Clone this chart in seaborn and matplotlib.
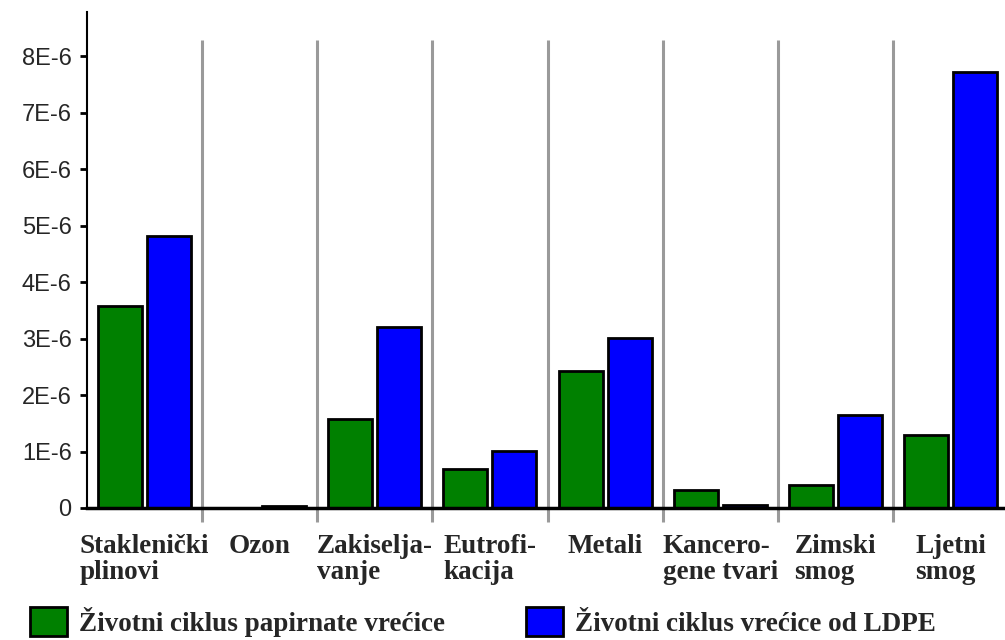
import matplotlib
matplotlib.use("Agg")
import matplotlib.pyplot as plt
import numpy as np
import pandas as pd
import seaborn as sns
from matplotlib.patches import Patch

# kategorije utjecaja
kategorije = ["Staklenički\nplinovi", "Ozon", "Zakiselja-\nvanje", "Eutrofi-\nkacija",
              "Metali", "Kancero-\ngene tvari", "Zimski\nsmog", "Ljetni\nsmog"]
serije = ["Životni ciklus papirnate vrećice", "Životni ciklus vrećice od LDPE"]
papir = [3.58e-6, 0.0, 1.58e-6, 0.69e-6, 2.42e-6, 0.31e-6, 0.41e-6, 1.29e-6]
ldpe = [4.81e-6, 0.04e-6, 3.20e-6, 1.01e-6, 3.01e-6, 0.05e-6, 1.65e-6, 7.72e-6]
boje = ["#008000", "#0000ff"]
y_tickovi = [0, 1e-6, 2e-6, 3e-6, 4e-6, 5e-6, 6e-6, 7e-6, 8e-6]
y_oznake = ["0", "1E-6", "2E-6", "3E-6", "4E-6", "5E-6", "6E-6", "7E-6", "8E-6"]

df = pd.DataFrame({"kategorija": kategorije * 2,
                   "serija": [serije[0]] * len(kategorije) + [serije[1]] * len(kategorije),
                   "vrijednost": papir + ldpe})

sns.set_theme(style="white")
plt.rcParams["font.family"] = ["Liberation Serif", "DejaVu Serif"]

fig = plt.figure(figsize=(10.05, 6.4), dpi=100)
ax = fig.add_axes([87 / 1005, 1 - 508 / 640, 921 / 1005, 496 / 640])

sns.barplot(data=df, x="kategorija", y="vrijednost", hue="serija", palette=boje,
            saturation=1, edgecolor="black", linewidth=2, width=0.85, gap=0.1,
            legend=False, ax=ax)

ax.set_xlim(-0.5, 7.5)
ax.set_ylim(0, 8.78e-6)

# sive crte izmedju kategorija
ax.vlines(np.arange(0.5, 7.5, 1), -0.25e-6, 8.28e-6, colors="#9a9a9a", linewidth=2.2,
          clip_on=False, zorder=0)

ax.set_yticks(y_tickovi)
ax.set_yticklabels(y_oznake, family=["Liberation Sans", "DejaVu Sans"], fontsize=17)
ax.tick_params(axis="y", left=True, length=5, width=2, color="black", pad=6)
ax.tick_params(axis="x", bottom=False, pad=13)
for t in ax.get_xticklabels():
    t.set_fontweight("bold")
    t.set_fontsize(19.5)
    t.set_multialignment("left")
    t.set_linespacing(1.05)

ax.set_xlabel("")
ax.set_ylabel("")
for s in ["top", "right"]:
    ax.spines[s].set_visible(False)
ax.spines["left"].set_color("black")
ax.spines["left"].set_linewidth(1.5)
ax.spines["bottom"].set_color("black")
ax.spines["bottom"].set_linewidth(2.5)
ax.spines["bottom"].set_zorder(5)

ruke = [Patch(facecolor=boje[0], edgecolor="black", linewidth=2),
        Patch(facecolor=boje[1], edgecolor="black", linewidth=2)]
fig.legend(ruke, serije, loc="upper left", bbox_to_anchor=(0.03, 0.052), ncol=2,
           frameon=False, prop={"family": "Liberation Serif", "weight": "bold", "size": 19.5},
           handlelength=1.35, handleheight=1.3, handletextpad=0.45, columnspacing=3.0,
           borderpad=0, borderaxespad=0)

fig.savefig("out.png", dpi=100)
